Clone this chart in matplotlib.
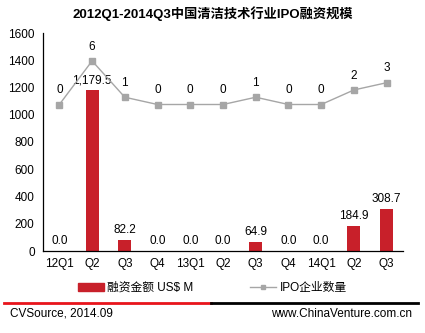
import matplotlib
matplotlib.use("Agg")
import matplotlib.pyplot as plt
from matplotlib.lines import Line2D
from matplotlib.patches import Patch

plt.rcParams['font.family'] = ['Liberation Sans', 'Noto Sans CJK SC', 'DejaVu Sans']

quarters = ["12Q1", "Q2", "Q3", "Q4", "13Q1", "Q2", "Q3", "Q4", "14Q1", "Q2", "Q3"]
amount = [0.0, 1179.5, 82.2, 0.0, 0.0, 0.0, 64.9, 0.0, 0.0, 184.9, 308.7]
ipo_count = [0, 6, 1, 0, 0, 0, 1, 0, 0, 2, 3]

RED = "#C8202A"
GRAY = "#A6A6A6"
FS = 8.5

fig = plt.figure(figsize=(4.25, 3.33), dpi=100)
ax = fig.add_axes([43/425, 1-251/333, 360/425, 218/333])
x = range(len(quarters))

ax.bar(x, amount, width=0.4, color=RED, zorder=2)
for i, v in enumerate(amount):
    ax.annotate(f"{v:,.1f}", (i, v), xytext=(0, 3), textcoords="offset points",
                ha="center", va="bottom", fontsize=FS)

ax.set_xlim(-0.5, len(quarters) - 0.5)
ax.set_ylim(0, 1600)
ax.set_yticks(range(0, 1601, 200))
ax.set_xticks(list(x))
ax.set_xticklabels(quarters)
ax.tick_params(length=0, labelsize=FS, pad=5)
ax.tick_params(axis="y", pad=6)
for s in ["top", "right"]:
    ax.spines[s].set_visible(False)
for s in ["left", "bottom"]:
    ax.spines[s].set_color("black")
    ax.spines[s].set_linewidth(0.9)

# IPO count on a hidden secondary scale
ax2 = ax.twinx()
ax2.plot(x, ipo_count, color=GRAY, lw=1, marker="s", ms=4, zorder=3)
for i, v in enumerate(ipo_count):
    ax2.annotate(str(v), (i, v), xytext=(0, 6), textcoords="offset points",
                 ha="center", va="bottom", fontsize=FS)
ax2.set_ylim(-20.16, 9.84)
ax2.set_yticks([])
for s in ax2.spines.values():
    s.set_visible(False)

fig.text(213/425, 1-14/333, "2012Q1-2014Q3中国清洁技术行业IPO融资规模",
         ha="center", va="center", fontsize=9.5, fontweight="bold")

handles = [Patch(color=RED), Line2D([], [], color=GRAY, lw=1, marker="s", ms=3)]
fig.legend(handles, ["融资金额 US$ M", "IPO企业数量"], loc="center",
           bbox_to_anchor=(0.5, 1-288/333), ncol=2, frameon=False, fontsize=FS,
           handlelength=2.2, handleheight=0.6, columnspacing=4.8, handletextpad=0.3)

fig.add_artist(Line2D([4/425, 211/425], [1-303/333]*2, color="#E8141B", lw=2))
fig.add_artist(Line2D([211/425, 418/425], [1-303/333]*2, color="black", lw=2))
fig.text(10/425, 1-314/333, "CVSource, 2014.09", ha="left", va="center", fontsize=FS)
fig.text(412/425, 1-314/333, "www.ChinaVenture.com.cn", ha="right", va="center", fontsize=FS)

fig.savefig("out.png", dpi=100)
